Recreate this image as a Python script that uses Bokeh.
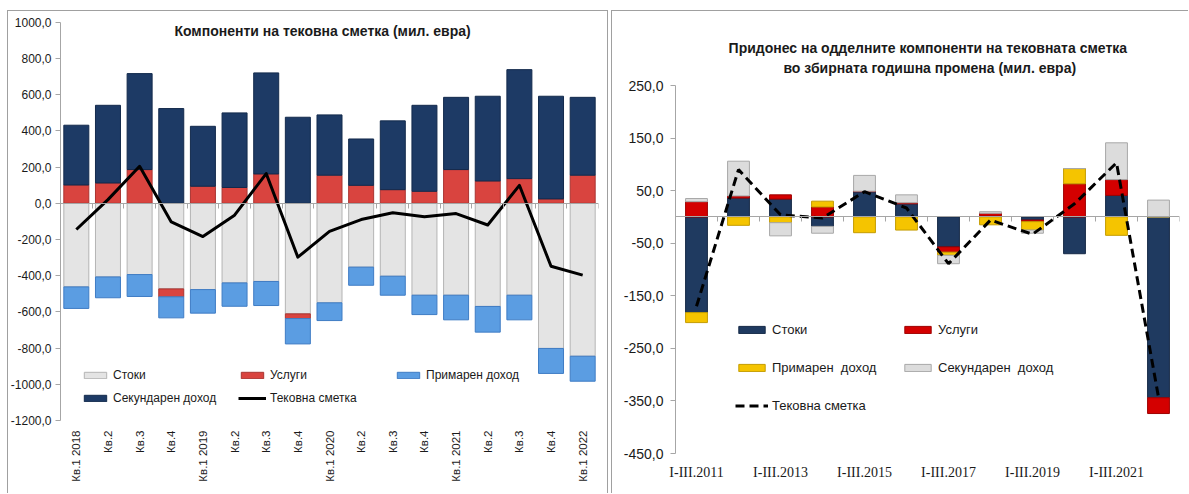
import math
from bokeh.plotting import figure
from bokeh.models import (ColumnDataSource, FixedTicker, LinearAxis, Range1d,
                          Legend, LegendItem, Label)
from bokeh.core.properties import value
from bokeh.layouts import row
from bokeh.embed import file_html
from bokeh.resources import INLINE

# ---------------- data: left chart (quarterly components, mil. EUR) ----------------
quarters = ["Кв.1 2018", "Кв.2", "Кв.3", "Кв.4", "Кв.1 2019", "Кв.2", "Кв.3", "Кв.4",
            "Кв.1 2020", "Кв.2", "Кв.3", "Кв.4", "Кв.1 2021", "Кв.2", "Кв.3", "Кв.4",
            "Кв.1 2022"]
q_goods = [-462, -407, -394, -473, -477, -440, -432, -611, -550, -353, -403, -508,
           -508, -570, -508, -802, -845]
q_services = [101, 112, 186, -44, 94, 87, 162, -26, 155, 99, 75, 66, 186, 123, 136, 24, 155]
q_primary = [-119, -115, -121, -116, -130, -129, -133, -140, -98, -100, -105, -107,
             -136, -142, -136, -138, -138]
q_secondary = [330, 429, 530, 523, 331, 412, 558, 475, 333, 256, 380, 475, 399, 468,
               602, 567, 430]
q_current = [-145, 20, 204, -103, -184, -66, 164, -298, -155, -90, -53, -75, -57, -120,
             99, -348, -397]
left_yticks = list(range(-1200, 1001, 200))

# ---------------- data: right chart (contribution to annual change) ----------------
periods = ["I-III.2011", "I-III.2012", "I-III.2013", "I-III.2014", "I-III.2015",
           "I-III.2016", "I-III.2017", "I-III.2018", "I-III.2019", "I-III.2020",
           "I-III.2021", "I-III.2022"]
c_goods = [-182, 36, 34, -18, 48, 25, -57, 2, -6, -70, 41, -344]
c_services = [29, 4, 8, 19, 1, 2, -10, 5, -3, 63, 30, -30]
c_primary = [-19, -16, -11, 11, -30, -25, -6, -15, -16, 29, -35, 0]
c_secondary = [6, 66, -25, -13, 30, 15, -16, 3, -6, 0, 70, 32]
c_current = [-170, 90, 4, -2, 48, 17, -89, -6, -33, 25, 103, -343]
right_yticks = list(range(-450, 251, 100))

FONT = "Liberation Sans"
TXT = "#1a1a1a"
AXC = "#a6a6a6"

# ---------------- layout (page pixels) ----------------
PANEL_TOP = 10
H = 483
FRAME_TOP_PX = 21          # common frame top (both panels)
FRAME_BOT_PX = PANEL_TOP + H
L_HI_PX, L_LO_PX = 21.7, 420.0     # left chart: page y of 1000 / -1200
R_HI_PX, R_LO_PX = 85.0, 453.0     # right chart: page y of 250 / -450
R_PANEL_LEFT = 611
R_FRAME_LEFT_PX, R_AXIS_PX, R_FRAME_RIGHT_PX = 665, 675, 1179


def yrange(lo, hi, hi_px, lo_px):
    k = (lo_px - hi_px) / (hi - lo)
    top = hi + (hi_px - FRAME_TOP_PX) / k
    bot = lo - (FRAME_BOT_PX - lo_px) / k
    return Range1d(bot, top), k


def stack(series_list):
    n = len(series_list[0])
    pos = [0.0] * n
    neg = [0.0] * n
    out = []
    for s in series_list:
        b, t = [], []
        for i, v in enumerate(s):
            if v >= 0:
                b.append(pos[i]); t.append(pos[i] + v); pos[i] += v
            else:
                b.append(neg[i]); t.append(neg[i] + v); neg[i] += v
        out.append((b, t))
    return out


def fmt(v):
    return ("%.1f" % v).replace(".", ",")


def legend(items, loc, gw, gh, lh, sp, fs):
    return Legend(items=items, location=loc, orientation="vertical",
                  glyph_width=gw, glyph_height=gh, label_height=lh, spacing=sp,
                  label_standoff=4, padding=0, margin=0, border_line_color=None,
                  background_fill_alpha=0, label_text_font=FONT,
                  label_text_font_size=fs, label_text_color=TXT)


def style_axes(p, yticks, ybounds, fs, standoff):
    p.outline_line_color = None
    p.xgrid.visible = False
    p.ygrid.visible = False
    p.border_fill_color = None
    p.background_fill_color = None
    ya = p.yaxis[0]
    ya.ticker = FixedTicker(ticks=yticks)
    ya.bounds = ybounds
    ya.major_label_overrides = {v: fmt(v) for v in yticks}
    ya.axis_line_color = AXC
    ya.major_tick_line_color = AXC
    ya.major_tick_out = 5
    ya.major_tick_in = 0
    ya.minor_tick_line_color = None
    ya.major_label_standoff = standoff
    ya.major_label_text_font = FONT
    ya.major_label_text_font_size = fs
    ya.major_label_text_color = TXT
    return ya


def zero_axis(p, n):
    ticks = [i - 0.5 for i in range(n + 1)]
    zx = LinearAxis(fixed_location=0, ticker=FixedTicker(ticks=ticks),
                    bounds=(-0.5, n - 0.5),
                    axis_line_color=AXC, major_tick_line_color=AXC, major_tick_in=5,
                    major_tick_out=0, minor_tick_line_color=None,
                    major_label_text_font_size="0px", major_label_standoff=0)
    zx.major_label_overrides = {t: "" for t in ticks}
    p.add_layout(zx, "above")


# =============================== LEFT CHART ===============================
W1 = 601
n1 = len(quarters)
xs1 = list(range(n1))
yr1, k1 = yrange(-1200, 1000, L_HI_PX, L_LO_PX)
p1 = figure(width=W1, height=H, x_range=Range1d(-0.5, n1 - 0.5), y_range=yr1,
            output_backend="svg", toolbar_location=None, x_axis_location=None,
            min_border_left=52, min_border_right=10,
            min_border_top=FRAME_TOP_PX - PANEL_TOP, min_border_bottom=0)
p1.margin = (PANEL_TOP, 0, 0, 7)
p1.styles = {"box-shadow": "inset 1px 1px 0 0 #a0a0a0, inset -1px 0 0 0 #a0a0a0"}
style_axes(p1, left_yticks, (-1200, 1000), "12px", 4)
zero_axis(p1, n1)

left_series = [q_goods, q_services, q_primary, q_secondary]
left_fill = ["#e4e4e4", "#d9443f", "#5b9de2", "#1d3a65"]
left_line = ["#b4b4b4", "#a93431", "#3f7cc4", "#132a4c"]
rl = []
for (b, t), fc, lc in zip(stack(left_series), left_fill, left_line):
    src = ColumnDataSource(dict(x=xs1, bottom=b, top=t))
    rl.append(p1.vbar(x="x", bottom="bottom", top="top", width=0.79, source=src,
                      fill_color=fc, line_color=lc, line_width=1))
rl_line = p1.line(xs1, q_current, line_color="black", line_width=3, line_join="round")

# category labels (vertical, reading upward), top at page y 430
lab1 = ColumnDataSource(dict(x=xs1, y=[-1200 - (430 - L_LO_PX) / k1] * n1, text=quarters))
p1.text(x="x", y="y", text="text", source=lab1, angle=math.pi / 2,
        text_align="right", text_baseline="middle", text_font=value(FONT),
        text_font_size=value("11.5px"), text_color=TXT)

p1.add_layout(Label(x=8, y=1000 - (30 - L_HI_PX) / k1, x_offset=-5,
                    text="Компоненти  на тековна сметка (мил. евра)",
                    text_font=FONT, text_font_size="14px", text_font_style="bold",
                    text_color=TXT, text_align="center", text_baseline="middle"))

lb = FRAME_BOT_PX
p1.add_layout(legend([LegendItem(label="Стоки", renderers=[rl[0]]),
                      LegendItem(label="Секундарен доход", renderers=[rl[3]])],
                     (21, lb - 398 - 7), 28, 8, 14, 9, "12px"), "center")
p1.add_layout(legend([LegendItem(label="Услуги", renderers=[rl[1]]),
                      LegendItem(label="Тековна сметка", renderers=[rl_line])],
                     (178, lb - 398 - 7), 28, 8, 14, 9, "12px"), "center")
p1.add_layout(legend([LegendItem(label="Примарен доход", renderers=[rl[2]])],
                     (334, lb - 375 - 7), 28, 8, 14, 9, "12px"), "center")

# =============================== RIGHT CHART ===============================
W2 = 577
n2 = len(periods)
xs2 = list(range(n2))
unit2 = (R_FRAME_RIGHT_PX - R_AXIS_PX) / n2
x0_2 = -0.5 - (R_AXIS_PX - R_FRAME_LEFT_PX) / unit2
yr2, k2 = yrange(-450, 250, R_HI_PX, R_LO_PX)
p2 = figure(width=W2, height=H, x_range=Range1d(x0_2, n2 - 0.5), y_range=yr2,
            output_backend="svg", toolbar_location=None, x_axis_location=None,
            min_border_left=R_FRAME_LEFT_PX - R_PANEL_LEFT,
            min_border_right=R_PANEL_LEFT + W2 - R_FRAME_RIGHT_PX,
            min_border_top=FRAME_TOP_PX - PANEL_TOP, min_border_bottom=0)
p2.margin = (PANEL_TOP, 0, 0, 3)
p2.styles = {"box-shadow": "inset 1px 1px 0 0 #a0a0a0"}
# label-only axis at the frame edge
ya2 = style_axes(p2, right_yticks, (-450, 250), "14px", 2)
ya2.axis_line_color = None
ya2.major_tick_line_color = None
ya2.major_tick_out = 0
# line + ticks axis at the first category boundary
yline2 = LinearAxis(fixed_location=-0.5, ticker=FixedTicker(ticks=right_yticks),
                    bounds=(-450, 250), axis_line_color=AXC, major_tick_line_color=AXC,
                    major_tick_out=5, major_tick_in=0, minor_tick_line_color=None,
                    major_label_text_font_size="0px", major_label_standoff=0)
yline2.major_label_overrides = {v: "" for v in right_yticks}
p2.add_layout(yline2, "left")
zero_axis(p2, n2)

right_series = [c_goods, c_services, c_primary, c_secondary]
right_fill = ["#1f3a60", "#d40000", "#f5c400", "#dcdcdc"]
right_line = ["#162a47", "#9e0000", "#c49c00", "#a8a8a8"]
rr = []
for (b, t), fc, lc in zip(stack(right_series), right_fill, right_line):
    src = ColumnDataSource(dict(x=xs2, bottom=b, top=t))
    rr.append(p2.vbar(x="x", bottom="bottom", top="top", width=0.52, source=src,
                      fill_color=fc, line_color=lc, line_width=1))
rr_line = p2.line(xs2, c_current, line_color="black", line_width=3, line_dash="9 5")

xs2_lab = xs2[::2]
lab2 = ColumnDataSource(dict(x=xs2_lab, y=[-450 - (472 - R_LO_PX) / k2] * len(xs2_lab),
                             text=[periods[i] for i in xs2_lab]))
p2.text(x="x", y="y", text="text", source=lab2, text_align="center",
        text_baseline="middle", text_font=value("Liberation Serif"),
        text_font_size=value("14px"), text_color=TXT)

p2.add_layout(Label(x=5.6, y=250 + (R_HI_PX - 47) / k2,
                    text="Придонес  на одделните компоненти  на тековната сметка",
                    text_font=FONT, text_font_size="14px", text_font_style="bold",
                    text_color=TXT, text_align="center", text_baseline="middle"))
p2.add_layout(Label(x=5.6, y=250 + (R_HI_PX - 67) / k2,
                    text="во збирната годишна  промена (мил. евра)",
                    text_font=FONT, text_font_size="14px", text_font_style="bold",
                    text_color=TXT, text_align="center", text_baseline="middle"))

lx2 = R_AXIS_PX - R_FRAME_LEFT_PX
p2.add_layout(legend([LegendItem(label="Стоки", renderers=[rr[0]]),
                      LegendItem(label="Примарен  доход", renderers=[rr[2]]),
                      LegendItem(label="Тековна сметка", renderers=[rr_line])],
                     (60 + lx2, lb - 406 - 7), 33, 9, 14, 23, "13px"), "center")
p2.add_layout(legend([LegendItem(label="Услуги", renderers=[rr[1]]),
                      LegendItem(label="Секундарен  доход", renderers=[rr[3]])],
                     (226 + lx2, lb - 368 - 7), 33, 9, 14, 23, "13px"), "center")

layout = row(p1, p2)
open("out.html", "w").write(file_html(layout, INLINE))
